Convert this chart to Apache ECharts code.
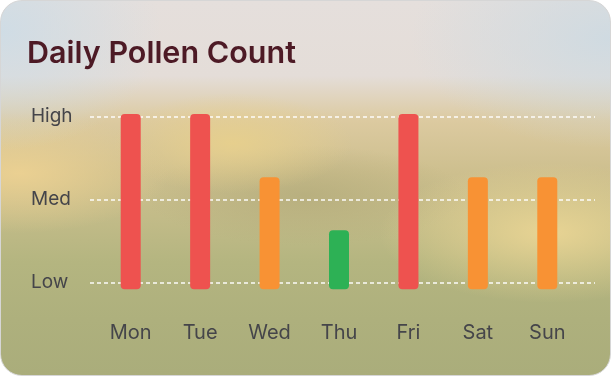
<!DOCTYPE html>
<html>
<head>
<meta charset="utf-8">
<script src="https://cdn.jsdelivr.net/npm/echarts@6/dist/echarts.min.js"></script>
<style>
  html, body { margin: 0; padding: 0; background: #ffffff; }
  .card {
    position: absolute; left: 0; top: 0;
    width: 609px; height: 374px;
    border: 1px solid #d6d6d6;
    border-radius: 22px;
    overflow: hidden;
    background:
      radial-gradient(ellipse 160px 120px at 0% 8%, rgba(205,220,230,0.9), rgba(205,220,230,0) 100%),
      radial-gradient(ellipse 200px 110px at 100% 10%, rgba(205,218,226,0.9), rgba(205,218,226,0) 100%),
      radial-gradient(ellipse 150px 60px at 3% 46%, rgba(236,209,146,0.95), rgba(236,209,146,0) 100%),
      radial-gradient(ellipse 120px 50px at 38% 38%, rgba(232,208,140,0.9), rgba(232,208,140,0) 100%),
      radial-gradient(ellipse 170px 70px at 90% 62%, rgba(234,213,148,0.95), rgba(234,213,148,0) 100%),
      radial-gradient(ellipse 160px 50px at 50% 52%, rgba(178,170,122,0.7), rgba(178,170,122,0) 100%),
      linear-gradient(to bottom, #e5dfdc 0%, #e4ddd8 20%, #dccaa0 32%, #cdbf8e 46%, #c2bb88 58%, #b4b580 70%, #aeb07d 85%, #aaad7b 100%);
  }
  #main { position: absolute; left: 0; top: 0; width: 611px; height: 376px; }
</style>
</head>
<body>
<div class="card"></div>
<div id="main"></div>
<script>
  // 数据
  const days = ['Mon', 'Tue', 'Wed', 'Thu', 'Fri', 'Sat', 'Sun'];
  const pollen = [3.03, 3.03, 2.27, 1.63, 3.03, 2.27, 2.27];
  const barColors = ['#ee524f', '#ee524f', '#f89234', '#2db155', '#ee524f', '#f89234', '#f89234'];
  const barBase = [0.92, 0.92, 0.92, 0.92, 0.92, 0.92, 0.92];
  const levels = ['', 'Low', 'Med', 'High', ''];

  let myChart = echarts.init(document.getElementById('main'));

  myChart.setOption({
    animation: false,
    title: {
      text: 'Daily Pollen Count',
      left: 22,
      top: 33,
      textStyle: {
        fontFamily: 'Inter',
        fontSize: 30.5,
        fontWeight: 600,
        color: '#4d1a25'
      }
    },
    grid: [
      { left: 96, right: 29, top: 33.4, bottom: 10.2 },
      { left: 90, right: 16, top: 33.4, bottom: 10.2 }
    ],
    xAxis: [{
      type: 'category',
      gridIndex: 0,
      data: days,
      offset: -43,
      axisLine: { show: false },
      axisTick: { show: false },
      axisLabel: {
        margin: 0,
        fontFamily: 'Inter',
        fontSize: 20,
        color: '#45454a',
        verticalAlign: 'top'
      }
    }, {
      type: 'value',
      gridIndex: 1,
      show: false,
      min: 0,
      max: 1
    }],
    yAxis: [{
      type: 'value',
      gridIndex: 0,
      min: 0,
      max: 4,
      interval: 1,
      show: false
    }, {
      type: 'value',
      gridIndex: 1,
      min: 0,
      max: 4,
      interval: 1,
      axisLine: { show: false },
      axisTick: { show: false },
      axisLabel: {
        align: 'left',
        margin: 59,
        fontFamily: 'Inter',
        fontSize: 19,
        color: '#45454a',
        formatter: function (v) { return levels[v] || ''; }
      },
      splitLine: {
        showMinLine: false,
        showMaxLine: false,
        lineStyle: { color: 'rgba(255,255,255,0.95)', width: 1.5, type: [4, 3] }
      }
    }],
    series: [{
      name: 'base',
      type: 'bar',
      stack: 'pollen',
      xAxisIndex: 0,
      yAxisIndex: 0,
      barWidth: 20,
      silent: true,
      itemStyle: { color: 'transparent' },
      data: barBase
    }, {
      name: 'pollen',
      type: 'bar',
      stack: 'pollen',
      xAxisIndex: 0,
      yAxisIndex: 0,
      barWidth: 20,
      itemStyle: { borderRadius: 4 },
      data: pollen.map(function (v, i) {
        return { value: +(v - barBase[i]).toFixed(2), itemStyle: { color: barColors[i] } };
      })
    }]
  });
</script>
</body>
</html>
